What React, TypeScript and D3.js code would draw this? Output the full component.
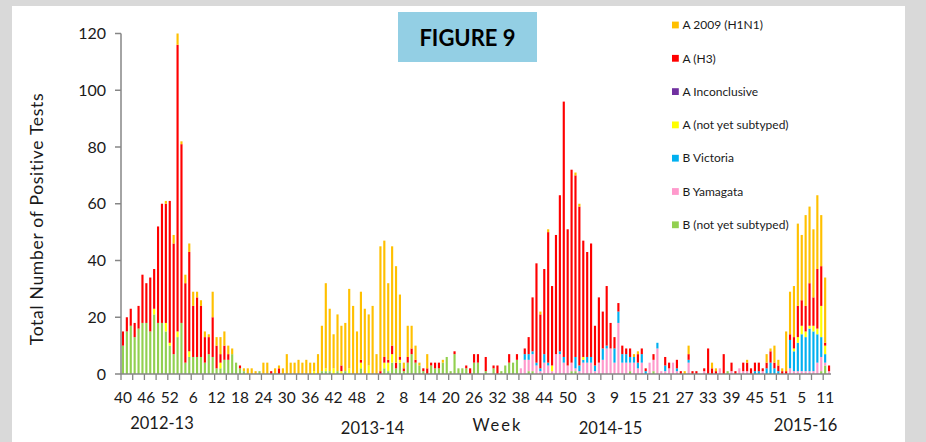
import React from 'react';
import * as d3 from 'd3';

// Weekly positive tests, 2012 week 40 .. 2016 week 12 (one value per week)
const bNotSubtyped = [
  10, 15, 17, 13, 16, 18, 18, 15, 21, 18,
  18, 15, 10, 7, 13, 18, 4, 6, 6, 6,
  6, 4, 7, 6, 2, 2, 5, 5, 7, 4,
  2, 1, 0, 0, 0, 1, 0, 0, 0, 0,
  0, 0, 0, 0, 0, 0, 0, 0, 0, 0,
  0, 1, 1, 1, 0, 1, 0, 1, 0, 0,
  0, 2, 0, 0, 0, 0, 0, 2, 1, 4,
  2, 4, 1, 4, 7, 4, 3, 1, 0, 3,
  2, 2, 4, 6, 1, 7, 2, 2, 2, 0,
  4, 4, 0, 1, 0, 2, 0, 1, 3, 4,
  4, 5, 0, 0, 1, 1, 0, 0, 0, 0,
  0, 0, 0, 0, 0, 1, 1, 0, 0, 0,
  0, 0, 0, 0, 0, 0, 0, 0, 0, 0,
  1, 0, 0, 0, 0, 0, 1, 0, 0, 0,
  0, 0, 0, 0, 0, 0, 0, 0, 0, 0,
  0, 0, 0, 0, 0, 1, 0, 0, 0, 0,
  0, 0, 0, 0, 0, 0, 0, 0, 0, 0,
  0, 0, 0, 0, 0, 0, 0, 0, 0, 1,
  3, 0,
];

const bYamagata = [
  0, 0, 0, 0, 0, 0, 0, 0, 0, 0,
  0, 0, 0, 0, 0, 0, 0, 0, 0, 0,
  0, 0, 0, 0, 0, 0, 0, 0, 0, 0,
  0, 0, 0, 0, 0, 0, 0, 0, 0, 0,
  0, 0, 0, 0, 0, 0, 0, 0, 0, 0,
  0, 0, 0, 0, 0, 0, 0, 0, 0, 0,
  0, 0, 0, 0, 0, 0, 0, 0, 0, 0,
  0, 0, 0, 0, 0, 0, 0, 0, 0, 0,
  0, 0, 0, 0, 0, 0, 0, 0, 0, 0,
  0, 0, 0, 0, 0, 0, 0, 0, 0, 0,
  0, 0, 2, 5, 4, 6, 3, 1, 4, 3,
  1, 7, 7, 4, 3, 3, 1, 1, 4, 4,
  4, 1, 4, 5, 9, 9, 4, 18, 4, 4,
  3, 4, 2, 4, 0, 4, 4, 9, 1, 1,
  2, 4, 1, 0, 0, 4, 0, 0, 0, 1,
  0, 0, 0, 2, 0, 0, 1, 0, 2, 1,
  1, 0, 0, 0, 1, 0, 0, 0, 0, 0,
  0, 2, 1, 1, 1, 1, 1, 1, 4, 5,
  1, 1,
];

const bVictoria = [
  0, 0, 0, 0, 0, 0, 0, 0, 0, 0,
  0, 0, 0, 0, 0, 0, 0, 0, 0, 0,
  0, 0, 0, 0, 0, 0, 0, 0, 0, 0,
  0, 0, 0, 0, 0, 0, 0, 0, 0, 0,
  0, 0, 0, 0, 0, 0, 0, 0, 0, 0,
  0, 0, 0, 0, 0, 0, 0, 0, 0, 0,
  0, 0, 0, 0, 0, 0, 0, 0, 0, 0,
  0, 0, 0, 0, 0, 0, 0, 0, 0, 0,
  0, 0, 0, 0, 0, 0, 0, 0, 0, 0,
  0, 0, 0, 0, 0, 0, 0, 0, 0, 0,
  0, 0, 0, 2, 2, 1, 1, 1, 3, 1,
  0, 0, 1, 2, 0, 0, 4, 2, 1, 2,
  2, 2, 0, 4, 1, 0, 5, 4, 3, 3,
  2, 2, 2, 3, 1, 0, 0, 2, 0, 2,
  0, 0, 1, 0, 0, 1, 0, 0, 0, 0,
  0, 0, 0, 0, 0, 0, 0, 0, 0, 0,
  0, 0, 1, 1, 0, 2, 4, 2, 1, 0,
  0, 10, 7, 10, 13, 12, 15, 14, 10, 7,
  3, 0,
];

const aNotSubtyped = [
  0, 0, 0, 0, 0, 0, 0, 0, 2, 0,
  0, 3, 1, 0, 2, 0, 0, 2, 0, 0,
  0, 0, 0, 0, 0, 2, 0, 0, 0, 0,
  0, 0, 0, 0, 0, 0, 0, 0, 0, 0,
  0, 0, 0, 0, 0, 0, 0, 0, 0, 1,
  0, 0, 1, 0, 2, 0, 1, 0, 2, 0,
  0, 2, 0, 3, 0, 0, 0, 2, 3, 3,
  0, 1, 0, 0, 0, 0, 0, 0, 0, 0,
  0, 0, 0, 0, 0, 0, 0, 0, 0, 0,
  0, 0, 0, 0, 0, 0, 0, 0, 0, 0,
  0, 0, 0, 0, 0, 0, 0, 0, 0, 0,
  2, 0, 0, 0, 0, 0, 0, 0, 1, 0,
  0, 0, 0, 0, 0, 0, 0, 0, 0, 0,
  0, 0, 0, 0, 0, 0, 0, 0, 0, 0,
  0, 0, 0, 0, 0, 0, 0, 0, 0, 0,
  0, 0, 0, 0, 0, 0, 0, 0, 0, 0,
  0, 0, 0, 0, 0, 0, 0, 0, 0, 0,
  0, 0, 1, 2, 3, 2, 1, 2, 2, 11,
  3, 0,
];

const aInconclusive = [
  0, 0, 0, 0, 0, 0, 0, 0, 0, 0,
  0, 0, 0, 0, 0, 0, 0, 0, 0, 0,
  0, 0, 0, 0, 0, 0, 0, 0, 0, 0,
  0, 0, 0, 0, 0, 0, 0, 0, 0, 0,
  0, 0, 0, 0, 0, 0, 0, 0, 0, 0,
  0, 0, 0, 0, 0, 0, 0, 0, 0, 0,
  0, 0, 0, 0, 0, 0, 0, 0, 0, 0,
  0, 0, 0, 0, 0, 0, 0, 0, 0, 0,
  0, 0, 0, 0, 0, 0, 0, 0, 0, 0,
  0, 0, 0, 0, 0, 0, 0, 0, 0, 0,
  0, 0, 0, 0, 0, 0, 0, 0, 0, 0,
  0, 0, 0, 0, 0, 0, 0, 0, 0, 0,
  0, 0, 0, 0, 0, 0, 0, 0, 0, 0,
  0, 0, 0, 0, 0, 0, 0, 0, 0, 0,
  0, 0, 0, 0, 0, 0, 0, 0, 0, 0,
  0, 0, 0, 0, 0, 0, 0, 0, 0, 0,
  0, 0, 0, 0, 0, 0, 0, 0, 0, 0,
  0, 0, 0, 0, 0, 0, 0, 0, 0, 0,
  0, 0,
];

const aH3 = [
  5, 5, 6, 5, 8, 17, 14, 19, 14, 34,
  42, 42, 50, 39, 101, 63, 28, 35, 18, 21,
  18, 9, 6, 14, 8, 3, 5, 2, 0, 0,
  1, 0, 0, 0, 0, 0, 0, 0, 1, 0,
  2, 0, 0, 0, 0, 0, 0, 0, 0, 0,
  0, 0, 0, 0, 0, 0, 2, 0, 0, 0,
  0, 1, 0, 0, 0, 0, 1, 2, 1, 3,
  2, 1, 1, 2, 2, 1, 0, 1, 2, 1,
  2, 2, 0, 0, 0, 1, 0, 0, 1, 2,
  3, 3, 0, 5, 0, 1, 3, 0, 0, 3,
  0, 2, 0, 2, 6, 19, 35, 19, 30, 46,
  28, 42, 55, 90, 48, 68, 64, 56, 41, 37,
  40, 14, 23, 13, 21, 9, 4, 3, 3, 2,
  3, 0, 3, 2, 1, 0, 2, 0, 0, 3,
  2, 0, 3, 1, 0, 2, 1, 1, 0, 1,
  9, 2, 1, 0, 7, 0, 3, 1, 0, 3,
  3, 2, 3, 3, 1, 2, 4, 2, 2, 1,
  1, 2, 4, 11, 9, 9, 15, 10, 21, 14,
  1, 2,
];

const aH1N1 = [
  0, 0, 0, 0, 0, 0, 0, 0, 0, 0,
  0, 1, 0, 3, 4, 1, 3, 3, 5, 2,
  2, 2, 1, 9, 3, 6, 5, 3, 2, 0,
  0, 1, 2, 2, 1, 0, 4, 4, 0, 2,
  1, 2, 7, 4, 4, 5, 4, 5, 4, 3,
  7, 16, 30, 22, 12, 20, 14, 17, 28, 24,
  15, 24, 23, 18, 24, 7, 44, 41, 27, 35,
  34, 22, 2, 11, 8, 5, 1, 0, 5, 0,
  0, 0, 1, 0, 0, 0, 0, 0, 0, 0,
  0, 0, 0, 0, 0, 0, 0, 0, 0, 0,
  0, 0, 0, 0, 0, 0, 0, 1, 0, 1,
  0, 0, 0, 0, 0, 0, 1, 1, 0, 0,
  0, 0, 0, 0, 0, 0, 0, 0, 0, 0,
  0, 1, 1, 0, 0, 0, 0, 0, 0, 0,
  0, 0, 0, 0, 1, 3, 0, 0, 0, 0,
  0, 2, 1, 0, 0, 0, 0, 0, 0, 0,
  1, 0, 0, 0, 0, 3, 1, 6, 2, 1,
  14, 15, 18, 29, 23, 32, 27, 24, 26, 18,
  23, 0,
];

// every 6th week is labelled, starting with week 40 of 2012
const weekLabels = [
  '40', '46', '52', '6', '12', '18', '24', '30', '36', '42', '48',
  '2', '8', '14', '20', '26', '32', '38', '44', '50',
  '3', '9', '15', '21', '27', '33', '39', '45', '51', '5', '11',
];
const seasonLabels = ['2012-13', '2013-14', 'Week', '2014-15', '2015-16'];

const seriesNames = [
  'B (not yet subtyped)', 'B Yamagata', 'B Victoria', 'A (not yet subtyped)',
  'A Inconclusive', 'A (H3)', 'A 2009 (H1N1)',
];
const seriesValues = [bNotSubtyped, bYamagata, bVictoria, aNotSubtyped, aInconclusive, aH3, aH1N1];
const seriesColors = ['#92D050', '#FF99CC', '#00B0F0', '#FFFF00', '#7030A0', '#FF0000', '#FFC000'];

// layout
const W = 926;
const H = 442;
const left = 121;
const right = 831;
const base = 374;
const top = 33.5;
const seasonAt = [10, 64, 96, 125, 175]; // category under each bottom label
const seasonY = [423, 428, 425, 428, 425];
const font = "Lato, 'Open Sans', sans-serif";
const axisColor = '#868686';

export default function App() {
  const n = aH3.length;
  const idx = d3.range(n);
  const rows = idx.map(i => {
    const r: Record<string, number> = { i };
    seriesNames.forEach((s, k) => (r[s] = seriesValues[k][i]));
    return r;
  });
  const layers = d3.stack<Record<string, number>>().keys(seriesNames)(rows);

  const x = d3.scaleBand<number>().domain(idx).range([left, right]).paddingInner(0.45).paddingOuter(0.225);
  const y = d3.scaleLinear().domain([0, 120]).range([base, top]);
  const step = x.step();
  const bw = x.bandwidth();
  const cx = (i: number) => (x(i) ?? 0) + bw / 2;

  const tickIdx = d3.range(0, n + 1, 3);
  const legend = seriesNames.map((s, k) => ({ s, c: seriesColors[k] })).reverse();

  return (
    <div style={{ position: 'fixed', left: 0, top: 0 }}>
      <svg width={W} height={H} viewBox={`0 0 ${W} ${H}`} style={{ display: 'block' }}>
        <rect width={W} height={H} fill="#d9d9d9" />
        <rect x={12} y={6} width={893} height={H} fill="#ffffff" />

        {/* stacked bars */}
        {layers.map((layer, k) => (
          <g key={layer.key} fill={seriesColors[k]}>
            {layer.map((d, i) =>
              d[1] - d[0] > 0 ? (
                <rect key={i} x={x(i)} y={y(d[1])} width={bw} height={y(d[0]) - y(d[1])} />
              ) : null
            )}
          </g>
        ))}

        {/* y axis */}
        <line x1={left} x2={left} y1={top} y2={base} stroke={axisColor} strokeWidth={1.5} />
        {y.ticks(6).map(t => (
          <g key={t}>
            <line x1={left - 6} x2={left} y1={y(t)} y2={y(t)} stroke={axisColor} strokeWidth={1.5} />
            <text x={left - 15} y={y(t)} dy="0.35em" textAnchor="end" fontFamily={font} fontSize={16} fill="#1a1a1a">
              {t}
            </text>
          </g>
        ))}
        <text
          transform={`translate(43,219) rotate(-90)`}
          textAnchor="middle"
          fontFamily={font}
          fontSize={17.5}
          letterSpacing={0.7}
          fill="#1a1a1a"
        >
          Total Number of Positive Tests
        </text>

        {/* x axis */}
        <line x1={left} x2={right} y1={base} y2={base} stroke={axisColor} strokeWidth={1.5} />
        {tickIdx.map(i => (
          <line key={i} x1={left + i * step} x2={left + i * step} y1={base} y2={base + 6} stroke={axisColor} strokeWidth={1.3} />
        ))}
        {weekLabels.map((lab, k) => (
          <text key={k} x={cx(k * 6)} y={398} dy="0.35em" textAnchor="middle" fontFamily={font} fontSize={15.5} fill="#1a1a1a">
            {lab}
          </text>
        ))}
        {seasonLabels.map((lab, k) => (
          <text
            key={lab}
            x={cx(seasonAt[k])}
            y={seasonY[k]}
            dy="0.35em"
            textAnchor="middle"
            fontFamily={font}
            fontSize={16.5}
            letterSpacing={lab === 'Week' ? 2 : 0}
            fill="#1a1a1a"
          >
            {lab}
          </text>
        ))}

        {/* figure tag */}
        <rect x={398} y={12} width={139} height={50} fill="#93CFE4" />
        <text x={467.5} y={38} dy="0.35em" textAnchor="middle" fontFamily={font} fontWeight="bold" fontSize={22} fill="#000">
          FIGURE 9
        </text>

        {/* legend */}
        {legend.map((l, k) => (
          <g key={l.s} transform={`translate(672,${25 + k * 33.3})`}>
            <rect x={0} y={-3.4} width={6.8} height={6.8} fill={l.c} />
            <text x={10.5} y={0} dy="0.35em" fontFamily={font} fontSize={12} fill="#1a1a1a">
              {l.s}
            </text>
          </g>
        ))}
      </svg>
    </div>
  );
}
